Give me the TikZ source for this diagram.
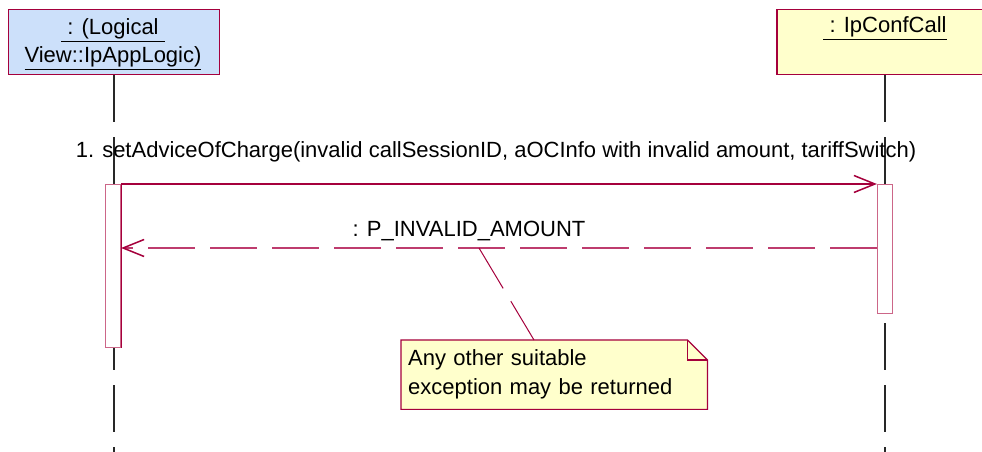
\documentclass[tikz,border=0pt]{standalone}
\usepackage{fontspec}
\setmainfont{Liberation Sans}
\usetikzlibrary{arrows.meta}
\definecolor{umlred}{RGB}{165,0,60}
\definecolor{umlpink}{RGB}{204,102,136}
\definecolor{retred}{RGB}{190,60,110}
\definecolor{bluefill}{RGB}{204,224,250}
\definecolor{yellowfill}{RGB}{255,255,204}
\definecolor{lifegray}{RGB}{40,40,40}
\tikzset{
  objbox/.style={draw=umlred, line width=1.2bp, inner sep=0pt, minimum height=65bp, anchor=north},
  lbl/.style={anchor=base, inner sep=0pt},
  lifeline/.style={draw=lifegray, line width=1.1bp, dash pattern=on 47bp off 15bp},
  actbox/.style={draw=umlpink, fill=white, line width=1.2bp, inner sep=0pt, minimum width=15bp, anchor=north},
  msgline/.style={draw=umlred, line width=1.3bp, -{Straight Barb[length=21bp,width=17bp,line width=1.5bp]}},
  retline/.style={draw=retred, line width=1.2bp, dash pattern=on 47bp off 15bp, -{Straight Barb[length=21bp,width=17bp,line width=1.5bp,color=umlred]}},
  anchorline/.style={draw=umlred, line width=1bp, dash pattern=on 47bp off 15bp},
  notebox/.style={anchor=north west, inner sep=0pt, minimum width=306bp, minimum height=69bp},
  notetext/.style={anchor=north west, inner xsep=7bp, inner ysep=0pt, text width=292bp, align=left, minimum width=306bp, minimum height=69bp}
}
\begin{document}
\begin{tikzpicture}[x=1bp,y=-1bp, font=\fontsize{22bp}{29bp}\selectfont]
\useasboundingbox (0,0) rectangle (982,452);
% objects
\node[objbox, fill=bluefill, minimum width=211bp] (app) at (114,9) {};
\node[objbox, fill=yellowfill, minimum width=216bp] (conf) at (885,9) {};
\node[lbl] (appL1) at (113,35) {\underline{~: (Logical~}};
\node[lbl] (appL2) at (113,63) {\underline{View::IpAppLogic)}};
\node[lbl] (confL) at (885,33) {\underline{~: IpConfCall}};
% lifelines
\coordinate (appEnd) at (114,452);
\coordinate (confEnd) at (885,452);
\draw[lifeline] (app.south) -- (appEnd);
\draw[lifeline] (conf.south) -- (confEnd);
% activations
\node[actbox, minimum height=163bp] (actA) at (113,184) {};
\node[actbox, minimum height=129bp] (actB) at (885,184) {};
\draw[umlred, line width=1.2bp] (actA.north east) -- (actA.south east);
% messages
\node[lbl] (m1) at (496,158) {1. setAdviceOfCharge(invalid callSessionID, aOCInfo with invalid amount, tariffSwitch)};
\draw[msgline] (actA.north east) -- (actB.north west);
\coordinate (retY) at (0,248);
\node[lbl] (m2) at (469,237) {: P\_INVALID\_AMOUNT};
\draw[retline] (actB.west |- retY) -- (actA.east |- retY);
% note
\node[notebox] (note) at (401,340) {};
\fill[yellowfill] (note.north west) -- ([xshift=-20bp]note.north east) -- ([yshift=-20bp]note.north east) -- (note.south east) -- (note.south west) -- cycle;
\node[notetext] (noteT) at (401,340) {Any other suitable\\exception may be returned};
\draw[umlred, line width=1.2bp, line join=miter] (note.north west) -- ([xshift=-20bp]note.north east) -- ([yshift=-20bp]note.north east) -- (note.south east) -- (note.south west) -- cycle;
\draw[umlred, line width=1.2bp] ([xshift=-20bp]note.north east) -- ([xshift=-20bp,yshift=-20bp]note.north east) -- ([yshift=-20bp]note.north east);
\coordinate (retPt) at (479,248);
\coordinate (noteTop) at (534,340);
\draw[anchorline] (retPt) -- (noteTop);
\end{tikzpicture}
\end{document}
